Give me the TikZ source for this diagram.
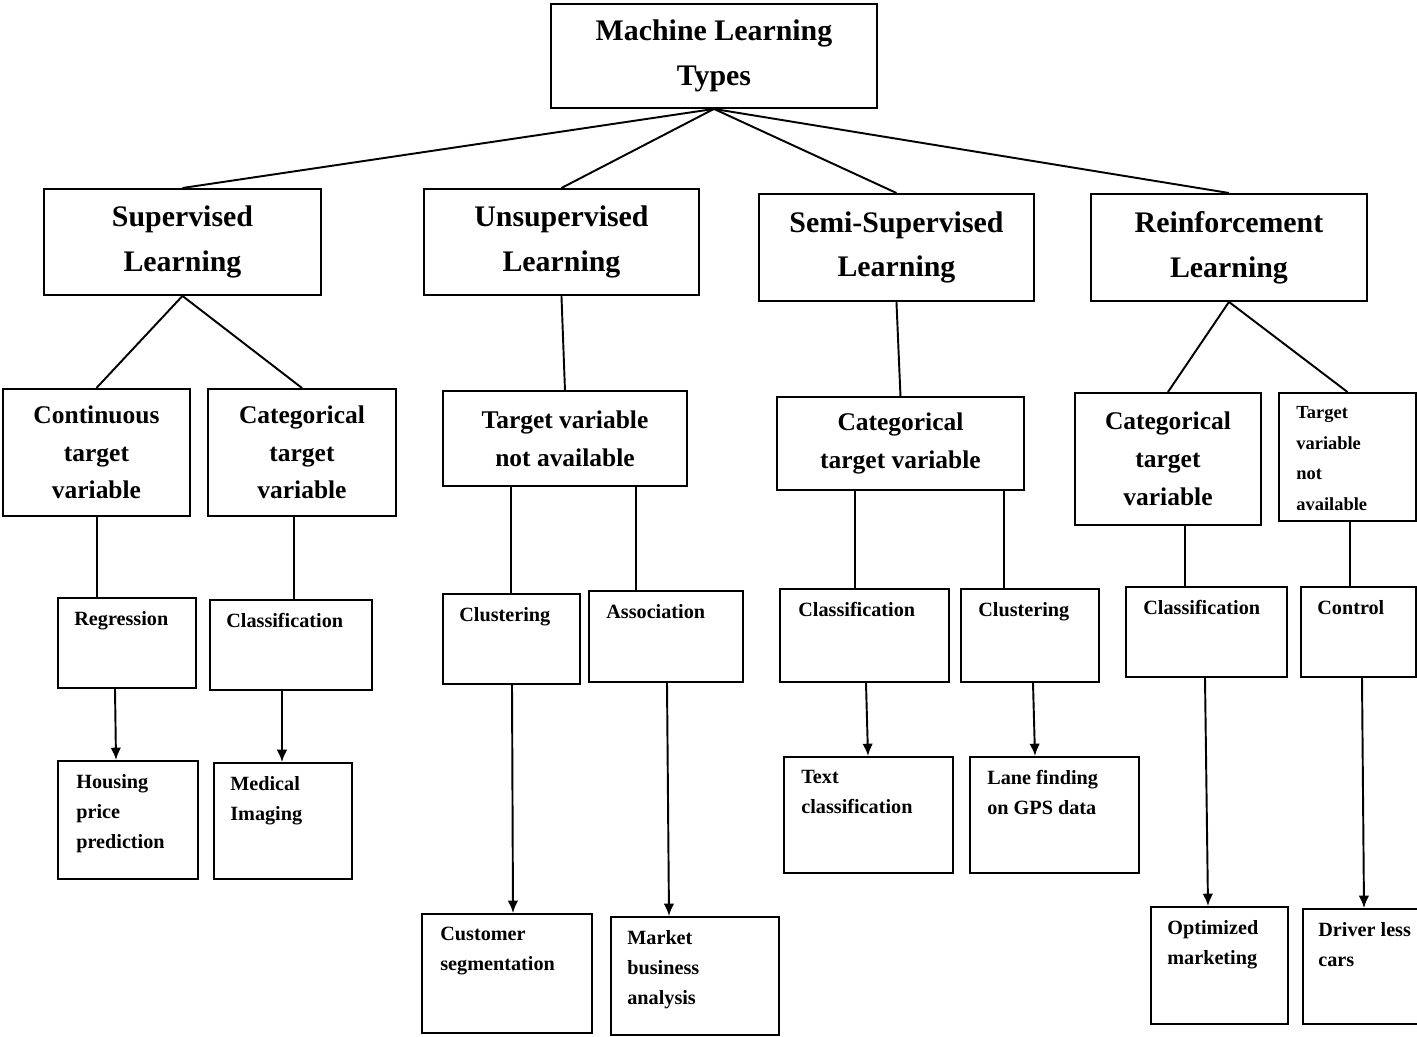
\documentclass[tikz,border=0pt]{standalone}
\usepackage{fontspec}
\setmainfont{Liberation Serif}
\usetikzlibrary{arrows.meta}
\begin{document}
\begin{tikzpicture}[x=0.02cm,y=-0.02cm,
  bx/.style={draw,line width=1.1pt,inner sep=0pt,anchor=north west},
  ln/.style={line width=1.1pt},
  ar/.style={line width=1.1pt,-{Latex[length=7pt,width=6pt]}},
  lab/.style={font=\bfseries,align=left,anchor=north west,inner sep=0pt}]
\useasboundingbox (0,0) rectangle (1417,1037);
\begin{scope}
\clip (0,0) rectangle (1417,1037);
\newcommand\cb[7]{\node[bx,minimum width={(#4-#2)*0.02cm},minimum height={(#5-#3)*0.02cm}] (#1) at (#2,#3) {};
  \node[font=\bfseries#6,align=center] at (#1.center) {#7};}
\newcommand\tb[8]{\node[bx,minimum width={(#4-#2)*0.02cm},minimum height={(#5-#3)*0.02cm}] (#1) at (#2,#3) {};
  \node[lab,font=\bfseries#6] at ([xshift=#7*0.02cm,yshift=-14*0.02cm]#1.north west) {#8};}
\def\La{\fontsize{17}{25.5}\selectfont}
\def\Lb{\fontsize{14.5}{21.5}\selectfont}
\def\Lc{\fontsize{11.5}{17}\selectfont}
\def\Ld{\fontsize{10.5}{17.5}\selectfont}
\cb{ml}{550}{3}{876}{107}{\La}{Machine Learning\\Types}
\cb{sup}{43}{188}{320}{294}{\La}{Supervised\\Learning}
\cb{uns}{423}{188}{698}{294}{\La}{Unsupervised\\Learning}
\cb{semi}{758}{193}{1033}{300}{\La}{Semi-Supervised\\Learning}
\cb{rein}{1090}{193}{1366}{300}{\La}{Reinforcement\\Learning}
\cb{cont}{2}{388}{189}{515}{\Lb}{Continuous\\target\\variable}
\cb{cat}{207}{388}{395}{515}{\Lb}{Categorical\\target\\variable}
\cb{tna}{442}{390}{686}{485}{\Lb}{Target variable\\not available}
\cb{scat}{776}{396}{1023}{489}{\Lb}{Categorical\\target variable}
\cb{rcat}{1074}{392}{1260}{524}{\Lb}{Categorical\\target\\variable}
\tb{rtna}{1278}{392}{1415}{520}{\Ld}{18}{Target\\variable\\not\\available}
\tb{reg}{57}{597}{195}{687}{\Lc}{17}{Regression}
\tb{cla}{209}{599}{371}{689}{\Lc}{17}{Classification}
\tb{clu}{442}{593}{579}{683}{\Lc}{17}{Clustering}
\tb{ass}{588}{590}{742}{681}{\Lc}{18}{Association}
\tb{scla}{779}{588}{948}{681}{\Lc}{19}{Classification}
\tb{sclu}{960}{588}{1098}{681}{\Lc}{18}{Clustering}
\tb{rcla}{1125}{586}{1286}{676}{\Lc}{18}{Classification}
\tb{ctl}{1300}{586}{1415}{676}{\Lc}{17}{Control}
\tb{hou}{57}{760}{197}{878}{\Lc}{19}{Housing\\price\\prediction}
\tb{med}{213}{762}{351}{878}{\Lc}{17}{Medical\\Imaging}
\tb{cus}{421}{913}{591}{1032}{\Lc}{19}{Customer\\segmentation}
\tb{mar}{610}{916}{778}{1034}{\Lc}{17}{Market\\business\\analysis}
\tb{txt}{783}{756}{952}{872}{\Lc}{18}{Text\\classification}
\tb{lan}{969}{756}{1138}{872}{\Lc}{18}{Lane finding\\on GPS data}
\tb{opt}{1150}{906}{1287}{1023}{\Lc}{17}{Optimized\\marketing}
\tb{drv}{1302}{908}{1480}{1023}{\Lc}{16}{Driver less\\cars}
\end{scope}
\foreach \c in {sup,uns,semi,rein} \draw[ln] (ml.south) -- (\c.north);
\draw[ln] (sup.south) -- (cont.north);
\draw[ln] (sup.south) -- (cat.north);
\draw[ln] (uns.south) -- (tna.north);
\draw[ln] (semi.south) -- (scat.north);
\draw[ln] (rein.south) -- (rcat.north);
\draw[ln] (rein.south) -- (rtna.north);
\draw[ln] (cont.south -| 97,0) -- (reg.north -| 97,0);
\draw[ln] (cat.south -| 294,0) -- (cla.north -| 294,0);
\draw[ln] (tna.south -| 511,0) -- (clu.north -| 511,0);
\draw[ln] (tna.south -| 636,0) -- (ass.north -| 636,0);
\draw[ln] (scat.south -| 855,0) -- (scla.north -| 855,0);
\draw[ln] (scat.south -| 1004,0) -- (sclu.north -| 1004,0);
\draw[ln] (rcat.south -| 1185,0) -- (rcla.north -| 1185,0);
\draw[ln] (rtna.south -| 1350,0) -- (ctl.north -| 1350,0);
\draw[ar] (reg.south -| 115,0) -- (hou.north -| 116,0);
\draw[ar] (cla.south -| 282,0) -- (med.north -| 282,0);
\draw[ar] (clu.south -| 512,0) -- (cus.north -| 513,0);
\draw[ar] (ass.south -| 667,0) -- (mar.north -| 669,0);
\draw[ar] (scla.south -| 866,0) -- (txt.north -| 868,0);
\draw[ar] (sclu.south -| 1033,0) -- (lan.north -| 1035,0);
\draw[ar] (rcla.south -| 1205,0) -- (opt.north -| 1208,0);
\draw[ar] (ctl.south -| 1362,0) -- (drv.north -| 1364,0);
\end{tikzpicture}
\end{document}
